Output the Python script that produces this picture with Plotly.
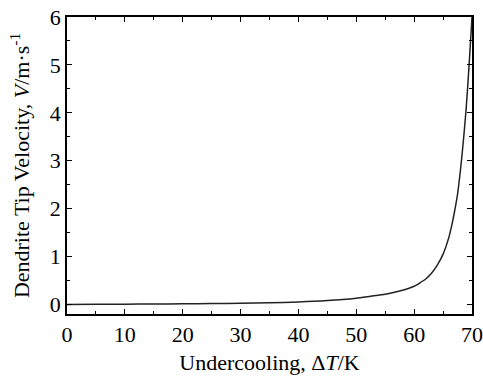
import plotly.graph_objects as go

undercooling = [0, 5, 10, 15, 20, 25, 30, 35, 40, 45, 50, 52.5, 55, 57.5, 60, 61, 62, 63, 64, 65,
                66, 66.5, 67, 67.5, 68, 68.5, 69, 69.5, 70]
velocity = [0.0, 0.002, 0.005, 0.008, 0.012, 0.018, 0.025, 0.035, 0.05, 0.08, 0.13, 0.17, 0.21,
            0.28, 0.38, 0.45, 0.53, 0.65, 0.82, 1.05, 1.4, 1.65, 1.95, 2.3, 2.8, 3.4, 4.1, 5.0, 6.0]

x_ticks = [0, 10, 20, 30, 40, 50, 60, 70]
y_ticks = [0, 1, 2, 3, 4, 5, 6]

font_family = "Liberation Serif, Times New Roman, serif"

fig = go.Figure()
fig.add_trace(go.Scatter(x=undercooling, y=velocity, mode="lines",
                         line=dict(color="#222222", width=1.5, shape="spline", smoothing=0.6),
                         showlegend=False))

axis_common = dict(
    showline=True, linecolor="black", linewidth=1.5, mirror="ticks",
    ticks="inside", ticklen=5, tickwidth=1.2, tickcolor="black",
    showgrid=False, zeroline=False, automargin=False,
    tickfont=dict(family=font_family, size=22, color="black"),
)

fig.update_xaxes(range=[0, 70], tickvals=x_ticks,
                 minor=dict(ticks="inside", ticklen=3, tickwidth=1.2, tickcolor="black", dtick=5, tick0=0, showgrid=False),
                 title=dict(text="Undercooling, Δ<i>T</i>/K", font=dict(family=font_family, size=22, color="black"), standoff=8),
                 **axis_common)
fig.update_yaxes(range=[-0.2, 6], tickvals=y_ticks,
                 minor=dict(ticks="inside", ticklen=3, tickwidth=1.2, tickcolor="black", dtick=0.5, tick0=0, showgrid=False),
                 title=dict(text="Dendrite Tip Velocity, <i>V</i>/m·s<sup>-1</sup>", font=dict(family=font_family, size=22, color="black"), standoff=14),
                 **axis_common)

fig.update_layout(width=483, height=376, margin=dict(l=67, r=11, t=17, b=62),
                  plot_bgcolor="white", paper_bgcolor="white",
                  font=dict(family=font_family, color="black"))

fig.write_html("out.html", config={"displayModeBar": False},
               post_script="document.body.style.margin='0';document.body.style.overflow='hidden';")
